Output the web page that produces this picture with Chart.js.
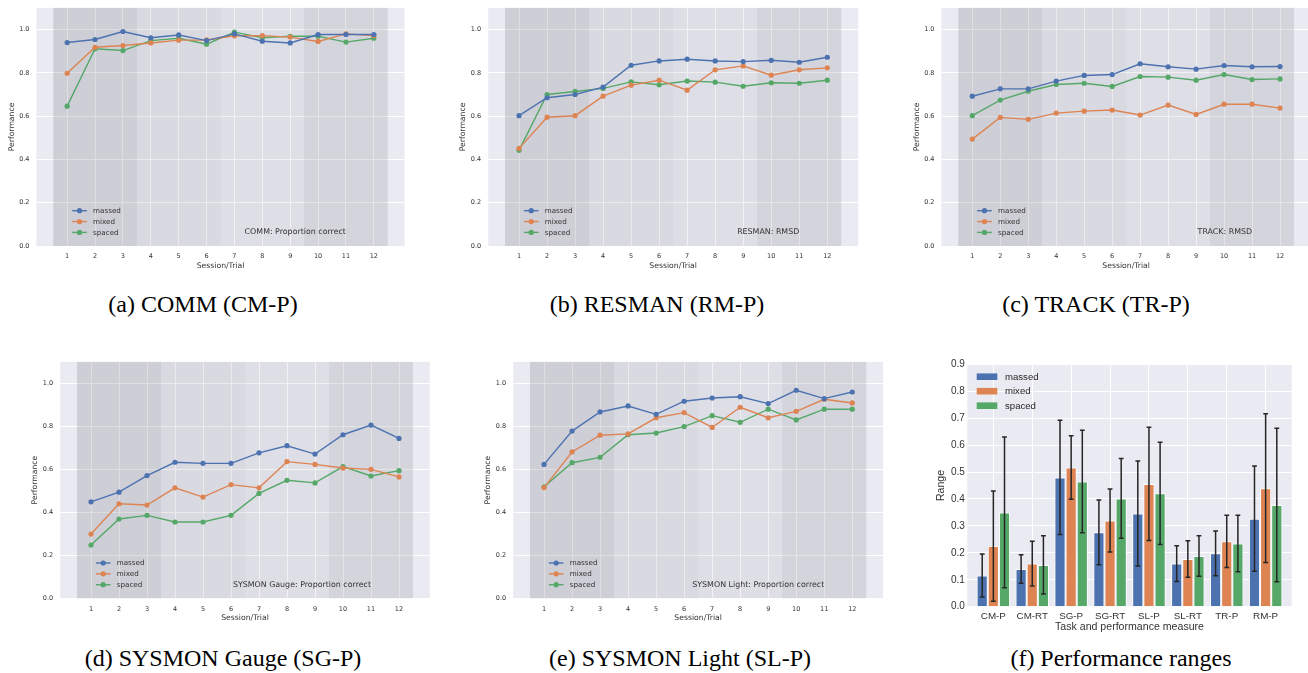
<!DOCTYPE html>
<html>
<head>
<meta charset="utf-8">
<script src="https://cdn.jsdelivr.net/npm/chart.js"></script>
<style>
  html, body { margin:0; padding:0; background:#fff; }
  body { position:relative; width:1308px; height:673px; overflow:hidden; }
  canvas { position:absolute; }
  .cap { position:absolute; font-family:'Liberation Serif','Times New Roman',serif; font-size:24px; line-height:24px; color:#000; white-space:nowrap; transform:translateX(-50%); }
</style>
</head>
<body>
<canvas id="cA"></canvas>
<canvas id="cB"></canvas>
<canvas id="cC"></canvas>
<canvas id="cD"></canvas>
<canvas id="cE"></canvas>
<canvas id="cF"></canvas>
<div class="cap" style="left:203px;top:292px">(a) COMM (CM-P)</div>
<div class="cap" style="left:657px;top:292px">(b) RESMAN (RM-P)</div>
<div class="cap" style="left:1096px;top:292px">(c) TRACK (TR-P)</div>
<div class="cap" style="left:223px;top:646px">(d) SYSMON Gauge (SG-P)</div>
<div class="cap" style="left:680px;top:646px">(e) SYSMON Light (SL-P)</div>
<div class="cap" style="left:1121px;top:646px">(f) Performance ranges</div>
<script>
// ---------------- data ----------------
const sessions = [1,2,3,4,5,6,7,8,9,10,11,12];
const perfTicks = [0, 0.2, 0.4, 0.6, 0.8, 1.0];
const groups = ['massed', 'mixed', 'spaced'];
const blockEdges = [0.5, 3.5, 6.5, 9.5, 12.5];

const commMassed = [0.940,0.954,0.991,0.962,0.975,0.949,0.980,0.946,0.938,0.977,0.977,0.977];
const commMixed  = [0.798,0.918,0.926,0.938,0.951,0.952,0.971,0.972,0.965,0.945,0.980,0.972];
const commSpaced = [0.646,0.911,0.903,0.949,0.960,0.932,0.988,0.962,0.969,0.969,0.942,0.960];

const resmanMassed = [0.602,0.685,0.700,0.734,0.835,0.855,0.863,0.855,0.852,0.858,0.849,0.872];
const resmanMixed  = [0.451,0.595,0.602,0.692,0.743,0.766,0.720,0.814,0.832,0.789,0.814,0.823];
const resmanSpaced = [0.442,0.700,0.714,0.728,0.758,0.745,0.762,0.757,0.738,0.754,0.752,0.766];

const trackMassed = [0.692,0.726,0.726,0.762,0.788,0.792,0.842,0.828,0.817,0.834,0.828,0.829];
const trackMixed  = [0.494,0.594,0.585,0.614,0.623,0.628,0.605,0.651,0.608,0.655,0.655,0.637];
const trackSpaced = [0.602,0.674,0.715,0.746,0.752,0.737,0.783,0.780,0.766,0.792,0.769,0.772];

const gaugeMassed = [0.449,0.494,0.571,0.633,0.628,0.628,0.677,0.710,0.671,0.761,0.806,0.744];
const gaugeMixed  = [0.299,0.440,0.434,0.514,0.471,0.529,0.514,0.636,0.623,0.606,0.600,0.565];
const gaugeSpaced = [0.248,0.369,0.386,0.355,0.355,0.386,0.488,0.549,0.537,0.613,0.569,0.594];

const lightMassed = [0.623,0.778,0.867,0.895,0.856,0.917,0.932,0.938,0.906,0.968,0.929,0.960];
const lightMixed  = [0.515,0.681,0.759,0.765,0.840,0.864,0.795,0.889,0.840,0.870,0.926,0.909];
const lightSpaced = [0.519,0.631,0.656,0.761,0.769,0.799,0.850,0.819,0.880,0.830,0.880,0.880];

const rangeCategories = ['CM-P','CM-RT','SG-P','SG-RT','SL-P','SL-RT','TR-P','RM-P'];
const rangeTicks = [0,0.1,0.2,0.3,0.4,0.5,0.6,0.7,0.8,0.9];
const rangeMassed    = [0.116,0.140,0.480,0.276,0.346,0.160,0.198,0.327];
const rangeMassedErr = [0.080,0.053,0.212,0.120,0.195,0.066,0.083,0.195];
const rangeMixed     = [0.225,0.160,0.517,0.320,0.456,0.177,0.243,0.440];
const rangeMixedErr  = [0.205,0.083,0.118,0.117,0.210,0.068,0.097,0.276];
const rangeSpaced    = [0.350,0.155,0.465,0.402,0.421,0.188,0.235,0.378];
const rangeSpacedErr = [0.280,0.108,0.190,0.148,0.190,0.075,0.105,0.285];

// ---------------- style ----------------
const COLORS = ['#4C72B0', '#DD8452', '#55A868'];
const BAND_ALPHA = [0.24, 0.15, 0.10, 0.19];
const TEXT = '#333333';
Chart.defaults.font.family = "'DejaVu Sans'";
Chart.defaults.color = TEXT;

const bgPlugin = {
  id: 'bg',
  beforeDraw(chart) {
    const {ctx, chartArea: a} = chart;
    ctx.save();
    ctx.fillStyle = '#EAEAF2';
    ctx.fillRect(a.left, a.top, a.right - a.left, a.bottom - a.top);
    ctx.restore();
  }
};

const bandPlugin = {
  id: 'bands',
  beforeDatasetsDraw(chart) {
    const {ctx, chartArea: a, scales: {x}} = chart;
    ctx.save();
    for (let i = 0; i < blockEdges.length - 1; i++) {
      const x0 = x.getPixelForValue(blockEdges[i]);
      const x1 = x.getPixelForValue(blockEdges[i + 1]);
      ctx.fillStyle = 'rgba(118,118,126,' + BAND_ALPHA[i] + ')';
      ctx.fillRect(x0, a.top, x1 - x0, a.bottom - a.top);
    }
    ctx.restore();
  }
};

const lineLegendPlugin = {
  id: 'lineLegend',
  afterDatasetsDraw(chart, args, opts) {
    const {ctx, chartArea: a, scales: {x}} = chart;
    ctx.save();
    chart.data.datasets.forEach((ds, i) => {
      const y = a.bottom - 35.3 + i * 10.85;
      ctx.strokeStyle = ds.borderColor;
      ctx.lineWidth = 1.4;
      ctx.beginPath();
      ctx.moveTo(a.left + 35.7, y);
      ctx.lineTo(a.left + 50.3, y);
      ctx.stroke();
      ctx.fillStyle = ds.borderColor;
      ctx.beginPath();
      ctx.arc(a.left + 43, y, 2.6, 0, Math.PI * 2);
      ctx.fill();
      ctx.fillStyle = TEXT;
      ctx.font = "7.2px 'DejaVu Sans'";
      ctx.textAlign = 'left';
      ctx.textBaseline = 'middle';
      ctx.fillText(ds.label, a.left + 56.5, y + 0.3);
    });
    if (opts && opts.note) {
      ctx.fillStyle = TEXT;
      ctx.font = "7.9px 'DejaVu Sans'";
      ctx.textAlign = 'right';
      ctx.textBaseline = 'middle';
      ctx.fillText(opts.note, x.getPixelForValue(11), a.bottom - 13.7);
    }
    ctx.restore();
  }
};

function place(canvas, plot, PL, PT, PR, PB) {
  const left = Math.round(plot.l - PL);
  const top = Math.round(plot.t - PT);
  const width = Math.round(plot.r + PR) - left;
  const height = Math.round(plot.b + PB) - top;
  canvas.width = width; canvas.height = height;
  canvas.style.left = left + 'px'; canvas.style.top = top + 'px';
  canvas.style.width = width + 'px'; canvas.style.height = height + 'px';
  return {
    wy: plot.l - left,
    padTop: plot.t - top,
    padRight: left + width - plot.r,
    hx: top + height - plot.b
  };
}

function lineChart(id, plot, series, note) {
  const cv = document.getElementById(id);
  const g = place(cv, plot, 40, 10, 15, 34);
  const yTitleLH = 7.7 * 1.2;
  return new Chart(cv, {
    type: 'line',
    data: {
      datasets: series.map((s, i) => ({
        label: groups[i],
        data: sessions.map((xv, j) => ({x: xv, y: s[j]})),
        borderColor: COLORS[i],
        backgroundColor: COLORS[i],
        borderWidth: 1.4,
        pointRadius: 2.6,
        pointBorderWidth: 0,
        pointHoverRadius: 2.6,
        tension: 0,
        fill: false
      }))
    },
    options: {
      responsive: false, animation: false, devicePixelRatio: 1, events: [],
      layout: {padding: {left: 0, top: g.padTop, right: g.padRight, bottom: 0}},
      plugins: {legend: {display: false}, tooltip: {enabled: false}, lineLegend: {note: note}},
      scales: {
        x: {
          type: 'linear', min: -0.1, max: 13.1,
          afterBuildTicks: s => { s.ticks = sessions.map(v => ({value: v})); },
          afterFit: s => { s.height = g.hx; },
          grid: {color: '#ffffff', lineWidth: 1, drawTicks: false},
          border: {display: false},
          ticks: {padding: 6.9, color: TEXT, font: {size: 6.5}, autoSkip: false, maxRotation: 0, callback: v => String(v)},
          title: {display: true, text: 'Session/Trial', color: TEXT, font: {size: 7.7}, padding: {top: 0, bottom: g.hx - 19.7 - yTitleLH / 2}}
        },
        y: {
          type: 'linear', min: 0, max: 1.1,
          afterBuildTicks: s => { s.ticks = perfTicks.map(v => ({value: v})); },
          afterFit: s => { s.width = g.wy; },
          grid: {color: '#ffffff', lineWidth: 1, drawTicks: false},
          border: {display: false},
          ticks: {padding: 7, color: TEXT, font: {size: 6.5}, callback: v => v.toFixed(1)},
          title: {display: true, text: 'Performance', color: TEXT, font: {size: 7.7}, padding: {top: g.wy - 24.7 - yTitleLH / 2, bottom: 0}}
        }
      }
    },
    plugins: [bgPlugin, bandPlugin, lineLegendPlugin]
  });
}

lineChart('cA', {l: 36.5, t: 7.3, r: 404.5, b: 246}, [commMassed, commMixed, commSpaced], 'COMM: Proportion correct');
lineChart('cB', {l: 488.2, t: 7.3, r: 858.1, b: 246}, [resmanMassed, resmanMixed, resmanSpaced], 'RESMAN: RMSD');
lineChart('cC', {l: 941.5, t: 7.3, r: 1310.8, b: 246}, [trackMassed, trackMixed, trackSpaced], 'TRACK: RMSD');
lineChart('cD', {l: 60.2, t: 360.7, r: 429.8, b: 598.3}, [gaugeMassed, gaugeMixed, gaugeSpaced], 'SYSMON Gauge: Proportion correct');
lineChart('cE', {l: 513.2, t: 360.7, r: 883.1, b: 598.3}, [lightMassed, lightMixed, lightSpaced], 'SYSMON Light: Proportion correct');

// ---------------- bar chart (f) ----------------
const errorBarPlugin = {
  id: 'errorBars',
  afterDatasetsDraw(chart) {
    const {ctx, scales: {y}} = chart;
    ctx.save();
    ctx.strokeStyle = '#262626';
    ctx.lineWidth = 1.5;
    chart.data.datasets.forEach((ds, d) => {
      const meta = chart.getDatasetMeta(d);
      meta.data.forEach((bar, i) => {
        const v = ds.data[i].y, e = ds.errors[i];
        const y0 = y.getPixelForValue(v - e), y1 = y.getPixelForValue(v + e);
        ctx.beginPath();
        ctx.moveTo(bar.x, y0); ctx.lineTo(bar.x, y1);
        ctx.moveTo(bar.x - 2.4, y0); ctx.lineTo(bar.x + 2.4, y0);
        ctx.moveTo(bar.x - 2.4, y1); ctx.lineTo(bar.x + 2.4, y1);
        ctx.stroke();
      });
    });
    ctx.restore();
  }
};

const barLegendPlugin = {
  id: 'barLegend',
  afterDatasetsDraw(chart) {
    const {ctx, chartArea: a} = chart;
    ctx.save();
    chart.data.datasets.forEach((ds, i) => {
      const y = a.top + 12.4 + i * 14.5;
      ctx.fillStyle = ds.backgroundColor;
      ctx.fillRect(a.left + 9.4, y - 3.3, 20.6, 6.6);
      ctx.fillStyle = '#262626';
      ctx.font = "9.6px 'Liberation Sans'";
      ctx.textAlign = 'left';
      ctx.textBaseline = 'middle';
      ctx.fillText(ds.label, a.left + 37.7, y + 0.4);
    });
    ctx.restore();
  }
};

(function () {
  const cv = document.getElementById('cF');
  const plot = {l: 967.3, t: 364.3, r: 1291.7, b: 606.7};
  const g = place(cv, plot, 42, 10, 10, 32);
  const titleLH = 10.6 * 1.2;
  const errs = [rangeMassedErr, rangeMixedErr, rangeSpacedErr];
  new Chart(cv, {
    type: 'bar',
    data: {
      datasets: [rangeMassed, rangeMixed, rangeSpaced].map((s, i) => ({
        label: groups[i],
        data: s.map((v, j) => ({x: j, y: v})),
        errors: errs[i],
        backgroundColor: COLORS[i],
        borderColor: '#ffffff',
        borderWidth: 1,
        barPercentage: 1,
        categoryPercentage: 0.86
      }))
    },
    options: {
      responsive: false, animation: false, devicePixelRatio: 1, events: [],
      layout: {padding: {left: 0, top: g.padTop, right: g.padRight, bottom: 0}},
      plugins: {legend: {display: false}, tooltip: {enabled: false}},
      scales: {
        x: {
          type: 'linear', min: -0.67, max: 7.67, offset: false,
          afterBuildTicks: s => { s.ticks = rangeCategories.map((c, i) => ({value: i})); },
          afterFit: s => { s.height = g.hx; },
          grid: {color: '#ffffff', lineWidth: 1, drawTicks: false, offset: false},
          border: {display: false},
          ticks: {padding: 3.3, color: TEXT, font: {family: "'Liberation Sans'", size: 9.8}, autoSkip: false, maxRotation: 0, callback: v => rangeCategories[v]},
          title: {display: true, text: 'Task and performance measure', color: TEXT, font: {family: "'Liberation Sans'", size: 10.6}, padding: {top: 0, bottom: g.hx - 20.6 - titleLH / 2}}
        },
        y: {
          type: 'linear', min: 0, max: 0.9,
          afterBuildTicks: s => { s.ticks = rangeTicks.map(v => ({value: v})); },
          afterFit: s => { s.width = g.wy; },
          grid: {color: '#ffffff', lineWidth: 1, drawTicks: false},
          border: {display: false},
          ticks: {padding: 2.5, color: TEXT, font: {family: "'Liberation Sans'", size: 10}, callback: v => v.toFixed(1)},
          title: {display: true, text: 'Range', color: TEXT, font: {family: "'Liberation Sans'", size: 10.6}, padding: {top: g.wy - 26.6 - titleLH / 2, bottom: 0}}
        }
      }
    },
    plugins: [bgPlugin, errorBarPlugin, barLegendPlugin]
  });
})();
</script>
</body>
</html>
